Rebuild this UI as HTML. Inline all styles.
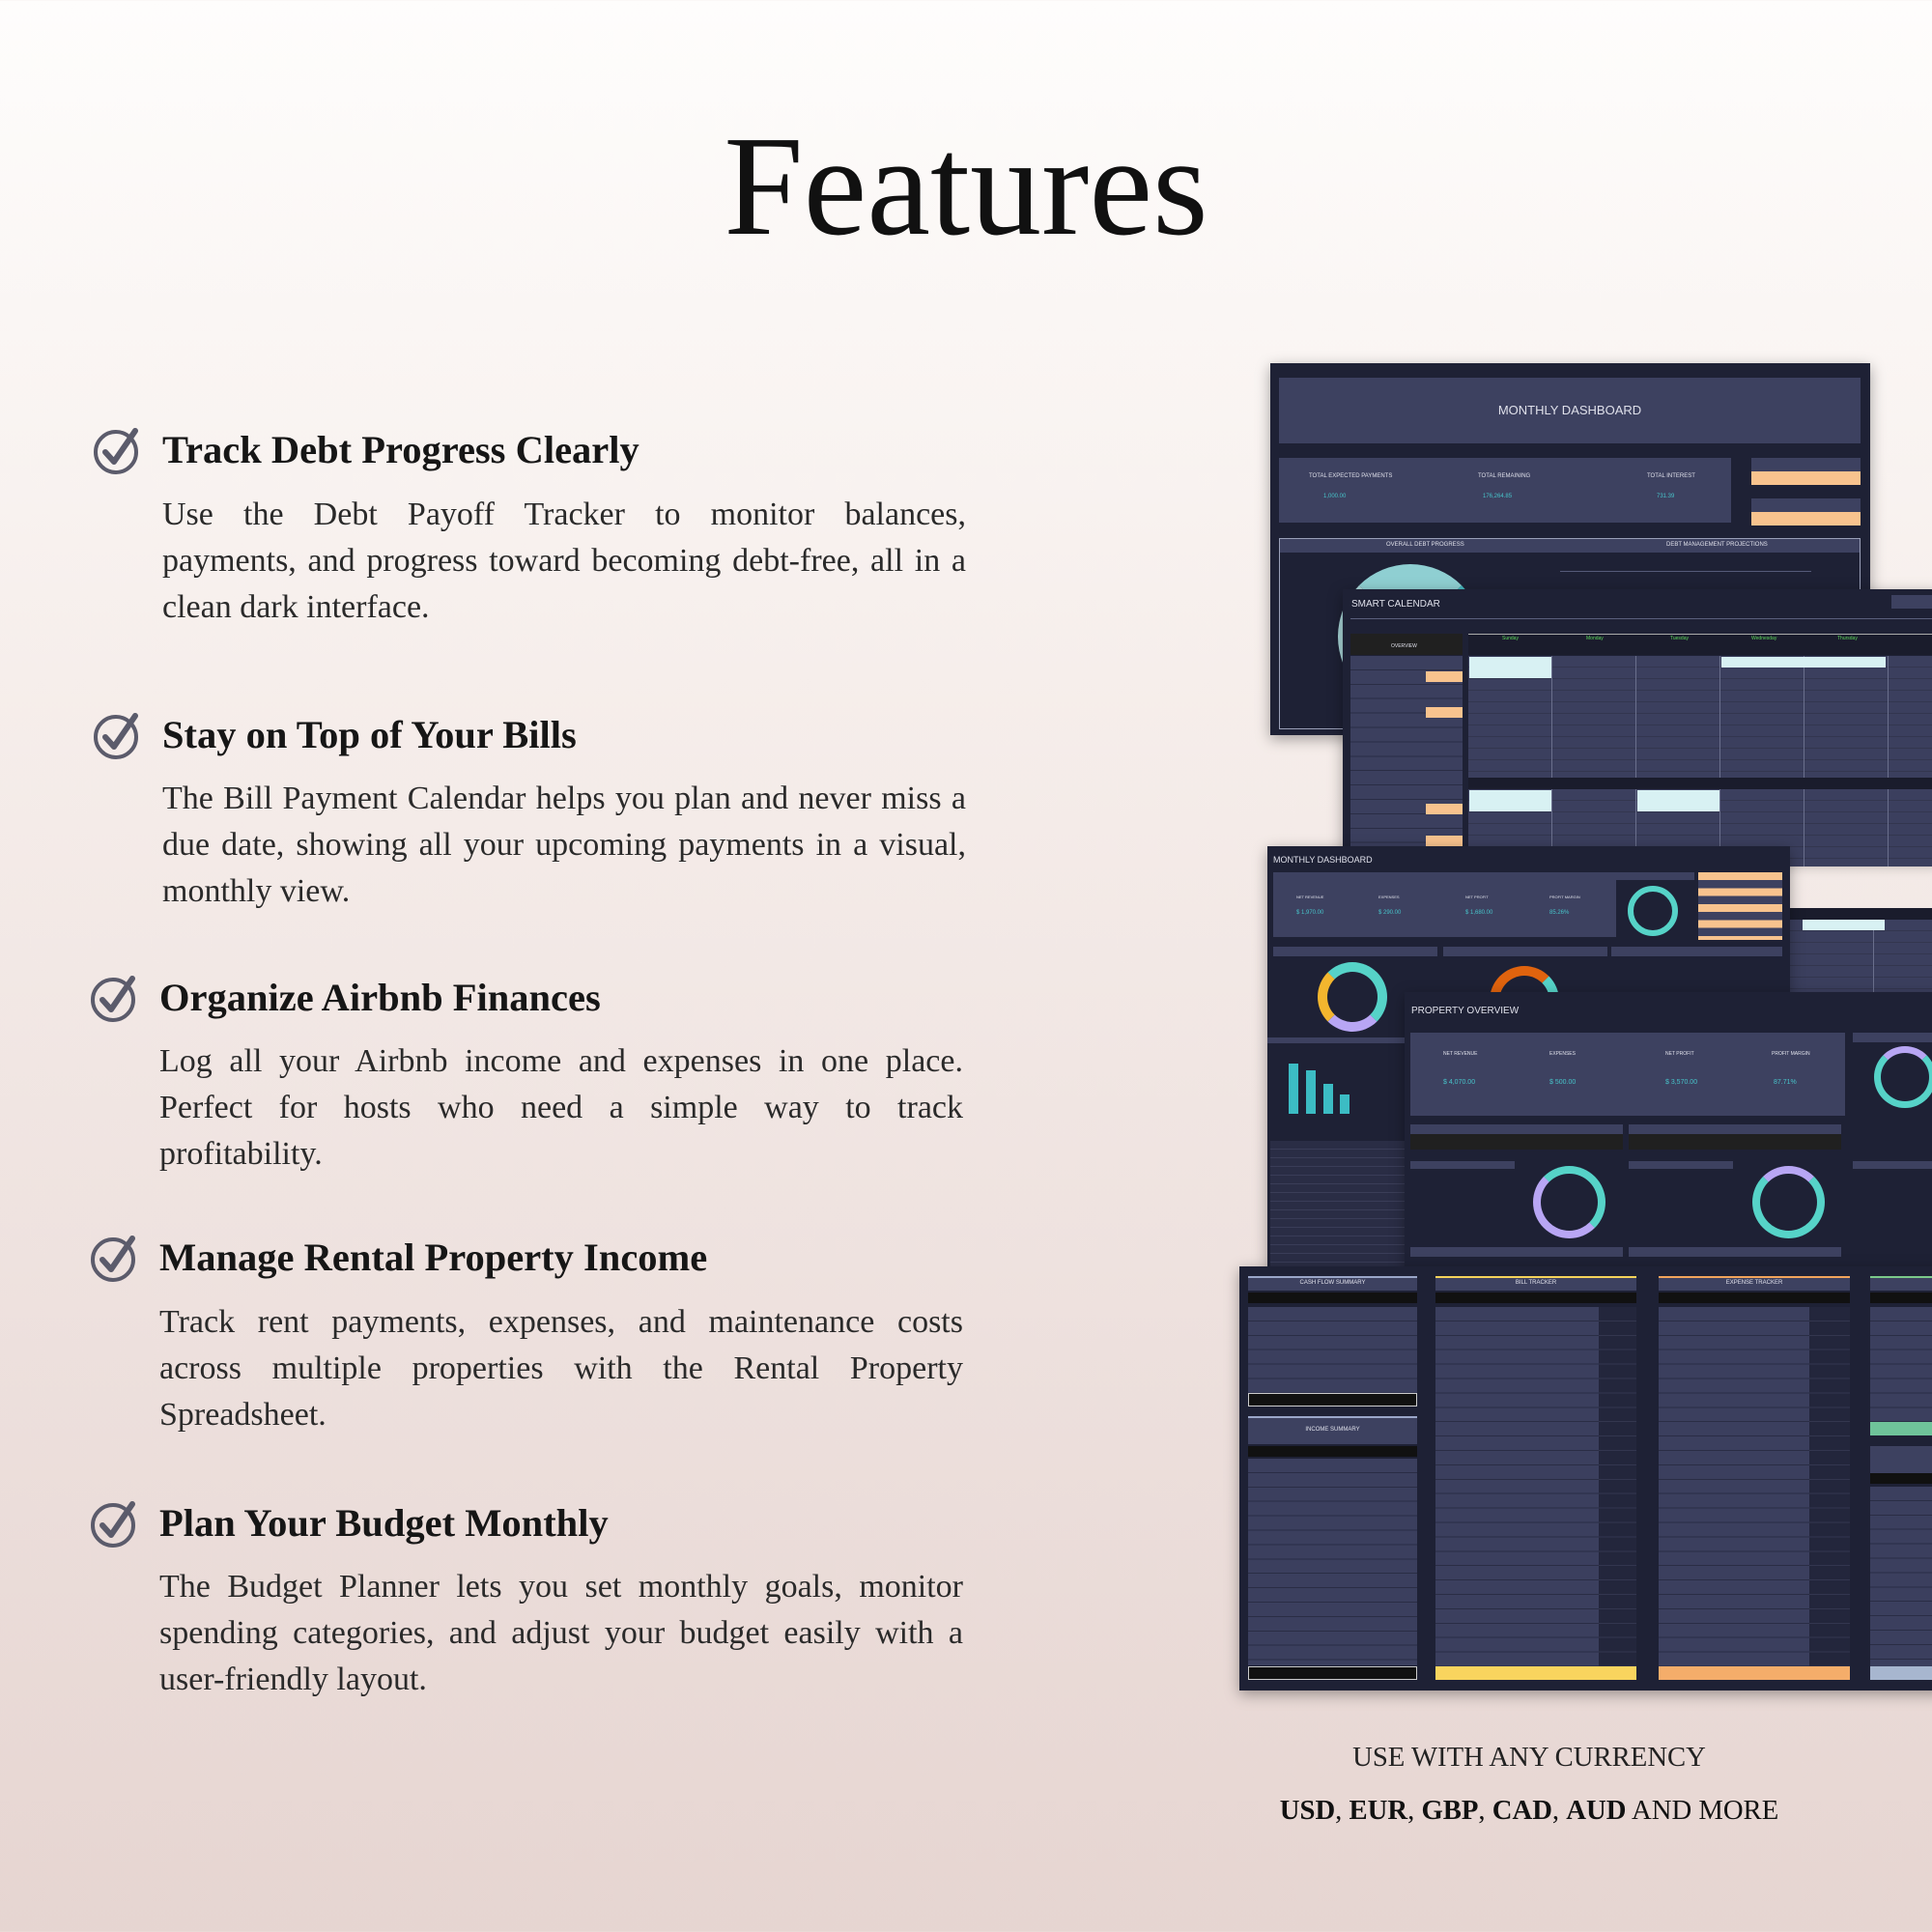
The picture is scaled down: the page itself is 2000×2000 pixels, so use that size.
<!DOCTYPE html>
<html><head><meta charset="utf-8"><style>
*{margin:0;padding:0;box-sizing:border-box}
body{width:2000px;height:2000px;position:relative;overflow:hidden;background:linear-gradient(180deg,#fefdfc 0%,#f6eeeb 35%,#ede0dd 70%,#e6d5d1 100%);font-family:"Liberation Serif",serif;color:#222}
.a{position:absolute}
h1{position:absolute;left:0;width:2000px;top:119px;text-align:center;font-weight:400;font-size:148px;color:#111;line-height:1}
.h{position:absolute;font-weight:700;font-size:40.5px;color:#161616;line-height:48px;white-space:nowrap}
.p{position:absolute;width:832px;font-size:34px;line-height:48px;color:#2a2a2a}
.p div{height:48px;white-space:nowrap}
.p .j{text-align:justify;text-align-last:justify}
.ic{position:absolute;width:52px;height:52px}
.t{font-family:"Liberation Sans",sans-serif;color:#dfe0ea;position:absolute;white-space:nowrap}
.tl{color:#47c3c9}
.dk{background:#1e2135}
.pn{background:#3d4160}
.shadow{box-shadow:0 4px 14px rgba(0,0,0,.35)}
.rows{background:repeating-linear-gradient(180deg,#3b3f5e 0 13.9px,#2a2d45 13.9px 14.9px)}
.or{background:#f8c38e}
</style></head><body>
<h1>Features</h1>

<svg class="ic" style="left:96px;top:440px" viewBox="0 0 52 52"><circle cx="24" cy="28" r="21" fill="none" stroke="#5b5b6b" stroke-width="4"/><path d="M13 28 L22 38 L44 6" fill="none" stroke="#5b5b6b" stroke-width="6" stroke-linecap="round" stroke-linejoin="round"/></svg>
<div class="h" style="left:168px;top:442px">Track Debt Progress Clearly</div>
<div class="p" style="left:168px;top:509px"><div class="j">Use the Debt Payoff Tracker to monitor balances,</div><div class="j">payments, and progress toward becoming debt-free, all in a</div><div>clean dark interface.</div></div>

<svg class="ic" style="left:96px;top:735px" viewBox="0 0 52 52"><circle cx="24" cy="28" r="21" fill="none" stroke="#5b5b6b" stroke-width="4"/><path d="M13 28 L22 38 L44 6" fill="none" stroke="#5b5b6b" stroke-width="6" stroke-linecap="round" stroke-linejoin="round"/></svg>
<div class="h" style="left:168px;top:737px">Stay on Top of Your Bills</div>
<div class="p" style="left:168px;top:803px"><div class="j">The Bill Payment Calendar helps you plan and never miss a</div><div class="j">due date, showing all your upcoming payments in a visual,</div><div>monthly view.</div></div>

<svg class="ic" style="left:93px;top:1007px" viewBox="0 0 52 52"><circle cx="24" cy="28" r="21" fill="none" stroke="#5b5b6b" stroke-width="4"/><path d="M13 28 L22 38 L44 6" fill="none" stroke="#5b5b6b" stroke-width="6" stroke-linecap="round" stroke-linejoin="round"/></svg>
<div class="h" style="left:165px;top:1009px">Organize Airbnb Finances</div>
<div class="p" style="left:165px;top:1075px"><div class="j">Log all your Airbnb income and expenses in one place.</div><div class="j">Perfect for hosts who need a simple way to track</div><div>profitability.</div></div>

<svg class="ic" style="left:93px;top:1276px" viewBox="0 0 52 52"><circle cx="24" cy="28" r="21" fill="none" stroke="#5b5b6b" stroke-width="4"/><path d="M13 28 L22 38 L44 6" fill="none" stroke="#5b5b6b" stroke-width="6" stroke-linecap="round" stroke-linejoin="round"/></svg>
<div class="h" style="left:165px;top:1278px">Manage Rental Property Income</div>
<div class="p" style="left:165px;top:1345px"><div class="j">Track rent payments, expenses, and maintenance costs</div><div class="j">across multiple properties with the Rental Property</div><div>Spreadsheet.</div></div>

<svg class="ic" style="left:93px;top:1551px" viewBox="0 0 52 52"><circle cx="24" cy="28" r="21" fill="none" stroke="#5b5b6b" stroke-width="4"/><path d="M13 28 L22 38 L44 6" fill="none" stroke="#5b5b6b" stroke-width="6" stroke-linecap="round" stroke-linejoin="round"/></svg>
<div class="h" style="left:165px;top:1553px">Plan Your Budget Monthly</div>
<div class="p" style="left:165px;top:1619px"><div class="j">The Budget Planner lets you set monthly goals, monitor</div><div class="j">spending categories, and adjust your budget easily with a</div><div>user-friendly layout.</div></div>

<!-- Dashboard 1 -->
<div class="a dk shadow" style="left:1315px;top:376px;width:621px;height:385px">
 <div class="a pn" style="left:9px;top:15px;width:602px;height:68px"></div>
 <div class="t" style="left:9px;top:41px;width:602px;text-align:center;font-size:13px">MONTHLY DASHBOARD</div>
 <div class="a pn" style="left:9px;top:98px;width:468px;height:67px"></div>
 <div class="t" style="left:40px;top:114px;font-size:6px">TOTAL EXPECTED PAYMENTS</div>
 <div class="t tl" style="left:55px;top:135px;font-size:6px">1,000.00</div>
 <div class="t" style="left:215px;top:114px;font-size:6px">TOTAL REMAINING</div>
 <div class="t tl" style="left:220px;top:135px;font-size:6px">176,264.85</div>
 <div class="t" style="left:390px;top:114px;font-size:6px">TOTAL INTEREST</div>
 <div class="t tl" style="left:400px;top:135px;font-size:6px">731.39</div>
 <div class="a pn" style="left:498px;top:98px;width:113px;height:28px"></div>
 <div class="a or" style="left:498px;top:112px;width:113px;height:14px"></div>
 <div class="a pn" style="left:498px;top:140px;width:113px;height:28px"></div>
 <div class="a or" style="left:498px;top:154px;width:113px;height:14px"></div>
 <div class="a" style="left:9px;top:181px;width:602px;height:198px;border:1px solid #9aa0b8"></div>
 <div class="a pn" style="left:10px;top:182px;width:600px;height:14px"></div>
 <div class="t" style="left:120px;top:185px;font-size:6px">OVERALL DEBT PROGRESS</div>
 <div class="t" style="left:410px;top:185px;font-size:6px">DEBT MANAGEMENT PROJECTIONS</div>
 <div class="a" style="left:70px;top:208px;width:150px;height:150px;border-radius:50%;border:26px solid #46b7be;border-left-color:#a8d6d8;border-top-color:#8fcfd2"></div>
 <div class="a" style="left:300px;top:215px;width:260px;height:1px;background:#555a78"></div>
</div>

<!-- Smart calendar -->
<div class="a dk shadow" style="left:1390px;top:610px;width:620px;height:280px">
 <div class="t" style="left:9px;top:10px;font-size:10px">SMART CALENDAR</div>
 <div class="a pn" style="left:568px;top:6px;width:60px;height:14px"></div>
 <div class="a" style="left:8px;top:30px;width:620px;height:1px;background:#5a5f7c"></div>
 <div class="a" style="left:8px;top:46px;width:116px;height:22px;background:#202020"></div>
 <div class="t" style="left:50px;top:56px;font-size:5px">OVERVIEW</div>
 <div class="a rows" style="left:8px;top:69px;width:116px;height:211px"></div>
 <div class="a or" style="left:86px;top:85px;width:38px;height:11px"></div>
 <div class="a or" style="left:86px;top:122px;width:38px;height:11px"></div>
 <div class="a or" style="left:86px;top:222px;width:38px;height:11px"></div>
 <div class="a or" style="left:86px;top:255px;width:38px;height:11px"></div>
 <div class="a" style="left:130px;top:46px;width:500px;height:22px;background:#1a1c2c;border-top:1px solid #aaa"></div>
 <div class="t" style="left:165px;top:48px;font-size:5px;color:#5bd65b">Sunday</div>
 <div class="t" style="left:252px;top:48px;font-size:5px;color:#5bd65b">Monday</div>
 <div class="t" style="left:339px;top:48px;font-size:5px;color:#5bd65b">Tuesday</div>
 <div class="t" style="left:423px;top:48px;font-size:5px;color:#5bd65b">Wednesday</div>
 <div class="t" style="left:512px;top:48px;font-size:5px;color:#5bd65b">Thursday</div>
 <div class="a" style="left:130px;top:69px;width:500px;height:126px;background:repeating-linear-gradient(90deg,transparent 0 86px,#6a6f8c 86px 87px),repeating-linear-gradient(180deg,#3b3f5e 0 11px,#33364f 11px 12px)"></div>
 <div class="a" style="left:131px;top:70px;width:85px;height:22px;background:#d8f1f3"></div>
 <div class="a" style="left:392px;top:70px;width:170px;height:11px;background:#d8f1f3"></div>
 <div class="a" style="left:130px;top:195px;width:500px;height:12px;background:#1a1c2c"></div>
 <div class="a" style="left:130px;top:207px;width:500px;height:80px;background:repeating-linear-gradient(90deg,transparent 0 86px,#6a6f8c 86px 87px),repeating-linear-gradient(180deg,#3b3f5e 0 11px,#33364f 11px 12px)"></div>
 <div class="a" style="left:131px;top:208px;width:85px;height:22px;background:#d8f1f3"></div>
 <div class="a" style="left:305px;top:208px;width:85px;height:22px;background:#d8f1f3"></div>
</div>
<div class="a" style="left:1853px;top:940px;width:160px;height:90px;background:repeating-linear-gradient(90deg,transparent 0 86px,#6a6f8c 86px 87px),repeating-linear-gradient(180deg,#3b3f5e 0 11px,#33364f 11px 12px)"></div>
<div class="a" style="left:1853px;top:940px;width:160px;height:12px;background:#1a1c2c"></div>
<div class="a" style="left:1866px;top:952px;width:85px;height:11px;background:#d8f1f3"></div>

<!-- Dashboard 2 -->
<div class="a dk shadow" style="left:1312px;top:876px;width:541px;height:438px">
 <div class="t" style="left:6px;top:9px;font-size:9px">MONTHLY DASHBOARD</div>
 <div class="a pn" style="left:6px;top:27px;width:355px;height:67px"></div>
 <div class="t" style="left:30px;top:50px;font-size:4px">NET REVENUE</div>
 <div class="t tl" style="left:30px;top:66px;font-size:6px">$ 1,970.00</div>
 <div class="t" style="left:115px;top:50px;font-size:4px">EXPENSES</div>
 <div class="t tl" style="left:115px;top:66px;font-size:6px">$ 290.00</div>
 <div class="t" style="left:205px;top:50px;font-size:4px">NET PROFIT</div>
 <div class="t tl" style="left:205px;top:66px;font-size:6px">$ 1,680.00</div>
 <div class="t" style="left:292px;top:50px;font-size:4px">PROFIT MARGIN</div>
 <div class="t tl" style="left:292px;top:66px;font-size:6px">85.26%</div>
 <div class="a pn" style="left:356px;top:27px;width:86px;height:8px"></div>
 <div class="a" style="left:373px;top:41px;width:52px;height:52px;border-radius:50%;border:6px solid #56d3c8"></div>
 <div class="a" style="left:446px;top:27px;width:87px;height:70px;background:repeating-linear-gradient(180deg,#f8c38e 0 8px,#3d4160 8px 16.5px)"></div>
 <div class="a pn" style="left:6px;top:104px;width:170px;height:10px"></div>
 <div class="a pn" style="left:182px;top:104px;width:170px;height:10px"></div>
 <div class="a pn" style="left:356px;top:104px;width:177px;height:10px"></div>
 <div class="a" style="left:52px;top:120px;width:72px;height:72px;border-radius:50%;border:10px solid #b8a6f4;border-top-color:#56d3c8;border-right-color:#56d3c8;border-left-color:#f3b62e"></div>
 <div class="a" style="left:230px;top:124px;width:72px;height:72px;border-radius:50%;border:10px solid #e0630e;border-right-color:#56d3c8"></div>
 <div class="a" style="left:0;top:198px;width:145px;height:6px;background:#3d4160"></div>
 <div class="a" style="left:22px;top:225px;width:10px;height:52px;background:#3cbcc4"></div>
 <div class="a" style="left:40px;top:232px;width:10px;height:45px;background:#3cbcc4"></div>
 <div class="a" style="left:58px;top:246px;width:10px;height:31px;background:#3cbcc4"></div>
 <div class="a" style="left:75px;top:257px;width:10px;height:20px;background:#3cbcc4"></div>
 <div class="a" style="left:3px;top:305px;width:142px;height:133px;background:repeating-linear-gradient(180deg,#2a2d45 0 8px,#3a3d58 8px 9px)"></div>
</div>

<!-- Property overview -->
<div class="a dk shadow" style="left:1454px;top:1027px;width:560px;height:287px">
 <div class="t" style="left:7px;top:14px;font-size:10px">PROPERTY OVERVIEW</div>
 <div class="a pn" style="left:6px;top:42px;width:450px;height:86px"></div>
 <div class="t" style="left:40px;top:61px;font-size:5px">NET REVENUE</div>
 <div class="t tl" style="left:40px;top:90px;font-size:7px">$ 4,070.00</div>
 <div class="t" style="left:150px;top:61px;font-size:5px">EXPENSES</div>
 <div class="t tl" style="left:150px;top:90px;font-size:7px">$ 500.00</div>
 <div class="t" style="left:270px;top:61px;font-size:5px">NET PROFIT</div>
 <div class="t tl" style="left:270px;top:90px;font-size:7px">$ 3,570.00</div>
 <div class="t" style="left:380px;top:61px;font-size:5px">PROFIT MARGIN</div>
 <div class="t tl" style="left:382px;top:90px;font-size:7px">87.71%</div>
 <div class="a pn" style="left:464px;top:42px;width:90px;height:10px"></div>
 <div class="a" style="left:486px;top:56px;width:64px;height:64px;border-radius:50%;border:7px solid #56d3c8;border-top-color:#b8a6f4"></div>
 <div class="a pn" style="left:6px;top:137px;width:220px;height:10px"></div>
 <div class="a" style="left:6px;top:147px;width:220px;height:16px;background:#202020"></div>
 <div class="a pn" style="left:232px;top:137px;width:220px;height:10px"></div>
 <div class="a" style="left:232px;top:147px;width:220px;height:16px;background:#202020"></div>
 <div class="a pn" style="left:6px;top:175px;width:108px;height:8px"></div>
 <div class="a pn" style="left:232px;top:175px;width:108px;height:8px"></div>
 <div class="a pn" style="left:464px;top:175px;width:90px;height:8px"></div>
 <div class="a" style="left:133px;top:180px;width:75px;height:75px;border-radius:50%;border:8px solid #b8a6f4;border-top-color:#56d3c8;border-right-color:#56d3c8"></div>
 <div class="a" style="left:360px;top:180px;width:75px;height:75px;border-radius:50%;border:8px solid #56d3c8;border-top-color:#b8a6f4"></div>
 <div class="a pn" style="left:6px;top:264px;width:220px;height:10px"></div>
 <div class="a pn" style="left:232px;top:264px;width:220px;height:10px"></div>
</div>

<!-- Budget sheet -->
<div class="a shadow" style="left:1283px;top:1311px;width:730px;height:439px;background:#1e2135">
 <div class="a pn" style="left:9px;top:10px;width:175px;height:15px;border-top:2px solid #9aa6c8"></div>
 <div class="t" style="left:9px;top:14px;width:175px;text-align:center;font-size:6px">CASH FLOW SUMMARY</div>
 <div class="a" style="left:9px;top:27px;width:175px;height:11px;background:#111"></div>
 <div class="a rows" style="left:9px;top:42px;width:175px;height:89px"></div>
 <div class="a" style="left:9px;top:131px;width:175px;height:14px;background:#111;border:1px solid #ccc"></div>
 <div class="a pn" style="left:9px;top:155px;width:175px;height:29px;border-top:2px solid #9aa6c8"></div>
 <div class="t" style="left:9px;top:166px;width:175px;text-align:center;font-size:6px">INCOME SUMMARY</div>
 <div class="a" style="left:9px;top:186px;width:175px;height:11px;background:#111"></div>
 <div class="a rows" style="left:9px;top:199px;width:175px;height:214px"></div>
 <div class="a" style="left:9px;top:414px;width:175px;height:14px;background:#111;border:1px solid #ccc"></div>
 <div class="a pn" style="left:203px;top:10px;width:208px;height:15px;border-top:2px solid #f5d35a"></div>
 <div class="t" style="left:203px;top:14px;width:208px;text-align:center;font-size:6px">BILL TRACKER</div>
 <div class="a" style="left:203px;top:27px;width:208px;height:11px;background:#111"></div>
 <div class="a rows" style="left:203px;top:42px;width:208px;height:372px"></div>
 <div class="a" style="left:372px;top:42px;width:39px;height:372px;background:repeating-linear-gradient(180deg,#23263c 0 13.9px,#33364f 13.9px 14.9px)"></div>
 <div class="a" style="left:203px;top:414px;width:208px;height:14px;background:#f9d45e"></div>
 <div class="a pn" style="left:434px;top:10px;width:198px;height:15px;border-top:2px solid #f2a45b"></div>
 <div class="t" style="left:434px;top:14px;width:198px;text-align:center;font-size:6px">EXPENSE TRACKER</div>
 <div class="a" style="left:434px;top:27px;width:198px;height:11px;background:#111"></div>
 <div class="a rows" style="left:434px;top:42px;width:198px;height:372px"></div>
 <div class="a" style="left:590px;top:42px;width:42px;height:372px;background:repeating-linear-gradient(180deg,#23263c 0 13.9px,#33364f 13.9px 14.9px)"></div>
 <div class="a" style="left:434px;top:414px;width:198px;height:14px;background:#f4ad6a"></div>
 <div class="a pn" style="left:653px;top:10px;width:80px;height:15px;border-top:2px solid #7bc98a"></div>
 <div class="a" style="left:653px;top:27px;width:80px;height:11px;background:#111"></div>
 <div class="a rows" style="left:653px;top:42px;width:80px;height:119px"></div>
 <div class="a" style="left:653px;top:161px;width:80px;height:14px;background:#6fc39a"></div>
 <div class="a pn" style="left:653px;top:186px;width:80px;height:28px"></div>
 <div class="a" style="left:653px;top:214px;width:80px;height:11px;background:#111"></div>
 <div class="a rows" style="left:653px;top:228px;width:80px;height:186px"></div>
 <div class="a" style="left:653px;top:414px;width:80px;height:14px;background:#a7b6cf"></div>
</div>

<div class="a" style="left:1283px;top:1803px;width:600px;text-align:center;font-size:28.7px;color:#222">USE WITH ANY CURRENCY</div>
<div class="a" style="left:1233px;top:1858px;width:700px;text-align:center;font-size:28.7px;color:#111"><b>USD</b>, <b>EUR</b>, <b>GBP</b>, <b>CAD</b>, <b>AUD</b> AND MORE</div>
</body></html>
